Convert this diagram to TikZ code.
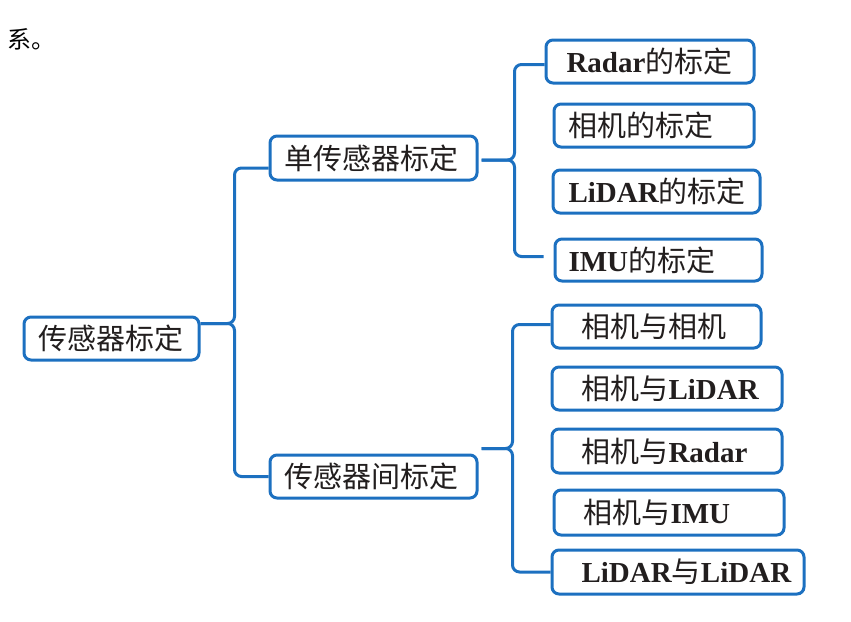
\documentclass[tikz,border=0pt]{standalone}
\usepackage{fontspec}
\setmainfont{Liberation Serif}
\newfontfamily\cjk{Noto Sans CJK SC}
\definecolor{myblue}{RGB}{28,112,192}
\definecolor{txt}{RGB}{34,30,30}
\newcommand\zh[1]{{\cjk #1}}
\newcommand\en[1]{\textbf{#1}}
\tikzset{
  box/.style={draw=myblue, line width=3pt, rounded corners=7pt, inner sep=0pt,
    anchor=north west, text=txt, font=\fontsize{29}{29}\selectfont},
  conn/.style={draw=myblue, line width=3pt, rounded corners=7pt},
}
% name, left, top, width, height, text offset, text
\newcommand\mkbox[7]{%
  \node[box, minimum height=#5pt-3pt] (#1) at (#2+1.5,#3+1.5)
    {\makebox[\dimexpr#4pt-3pt\relax][l]{\hspace*{\dimexpr#6pt-1.5pt\relax}#7}};}
\begin{document}
\begin{tikzpicture}[x=1pt,y=-1pt]
\useasboundingbox (0,0) rectangle (851,621);
\node[anchor=west, inner sep=0pt, text=black, font=\fontsize{24}{24}\selectfont\cjk] (tl) at (7,39) {系。};
\mkbox{root}{21}{314}{178}{46}{16}{\zh{传感器标定}}
\mkbox{s1}{267}{133}{210}{47}{16}{\zh{单传感器标定}}
\mkbox{s2}{267}{452}{210}{46}{16}{\zh{传感器间标定}}
\mkbox{a1}{543}{37}{211}{46}{22}{\en{Radar}\zh{的标定}}
\mkbox{a2}{551}{101}{203}{46}{16}{\zh{相机的标定}}
\mkbox{a3}{550}{167}{210}{46}{17}{\en{LiDAR}\zh{的标定}}
\mkbox{a4}{552}{236}{210}{45}{15}{\en{IMU}\zh{的标定}}
\mkbox{b1}{549}{302}{212}{46}{31}{\zh{相机与相机}}
\mkbox{b2}{549}{364}{233}{46}{31}{\zh{相机与}\en{LiDAR}}
\mkbox{b3}{549}{426}{233}{47}{31}{\zh{相机与}\en{Radar}}
\mkbox{b4}{551}{487}{233}{48}{31}{\zh{相机与}\en{IMU}}
\mkbox{b5}{549}{547}{255}{47}{31}{\en{LiDAR}\zh{与}\en{LiDAR}}
% brace 1
\coordinate (t1) at ([yshift=15pt]root.east);
\draw[conn] ([yshift=-10pt]s1.west) -| ([xshift=34pt]t1) -- (t1);
\draw[conn] (s2.west) -| ([xshift=34pt]t1) -- (t1);
% brace 2
\coordinate (t2) at ([xshift=3pt,yshift=-2pt]s1.east);
\draw[conn] ([yshift=-3pt]a1.west) -| ([xshift=33pt]t2) -- (t2);
\draw[conn] ([xshift=-10pt,yshift=3.5pt]a4.west) -| ([xshift=33pt]t2) -- (t2);
% brace 3
\coordinate (t3) at ([xshift=3pt,yshift=28pt]s2.east);
\draw[conn] ([yshift=2pt]b1.west) -| ([xshift=31pt]t3) -- (t3);
\draw[conn] (b5.west) -| ([xshift=31pt]t3) -- (t3);
\end{tikzpicture}
\end{document}
